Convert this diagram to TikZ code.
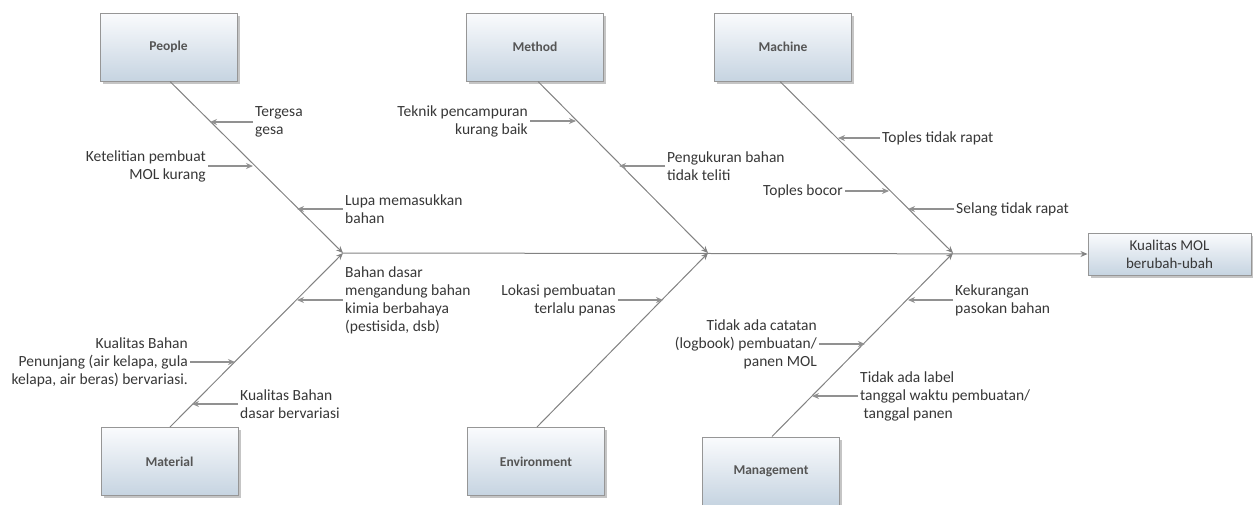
\documentclass[tikz,border=0pt]{standalone}
\usepackage{fontspec}
\setmainfont{Carlito}
\usetikzlibrary{arrows.meta,shadows}
\definecolor{bonegray}{RGB}{130,130,130}
\definecolor{subgray}{RGB}{145,145,145}
\definecolor{txtgray}{RGB}{55,55,55}
\definecolor{boxline}{RGB}{150,150,150}
\definecolor{boxtop}{RGB}{250,251,253}
\definecolor{boxbot}{RGB}{198,212,225}
\tikzset{
  catbox/.style={draw=boxline, line width=1pt, top color=boxtop, bottom color=boxbot,
    minimum width=137pt, minimum height=68pt, text=txtgray!85,
    font=\fontsize{13.5}{15}\selectfont\bfseries,
    drop shadow={shadow xshift=2.5pt, shadow yshift=-2.5pt, fill=black!45}},
  effbox/.style={catbox, minimum width=163pt, minimum height=42pt, align=center,
    text=txtgray, font=\fontsize{15}{18}\selectfont},
  cause/.style={text=txtgray, inner sep=2pt, font=\fontsize{15.5}{18}\selectfont},
  bone/.style={draw=bonegray, line width=1pt, -{Stealth[length=7pt,width=6pt]}},
  sub/.style={draw=subgray, line width=1.4pt, -{Stealth[length=7pt,width=6pt]}}
}
\begin{document}
\begin{tikzpicture}[x=1pt,y=-1pt]
  \useasboundingbox (0,0) rectangle (1253,504);
  % category boxes and the effect
  \foreach \n/\x/\y/\t in {peo/168.5/47/People, met/535/47/Method, mac/783/47/Machine,
      mat/169.5/461.5/Material, env/536/461.5/Environment, man/771/471/Management}
    \node[catbox] (\n) at (\x,\y) {\t};
  \node[effbox] (eff) at (1169.5,254) {Kualitas MOL\\berubah-ubah};
  % junctions on the spine
  \coordinate (j1) at (343,253);
  \coordinate (j2) at (708,253);
  \coordinate (j3) at (953,253);
  \draw[bone] (j1) -- (eff.west);
  \draw[bone] (peo.south -| 170,0) -- (j1);
  \draw[bone] (mat.north -| 170,0) -- (j1);
  \draw[bone] (met.south -| 538,0) -- (j2);
  \draw[bone] (env.north -| 537,0) -- (j2);
  \draw[bone] (mac.south -| 780,0) -- (j3);
  \draw[bone] (man.north -| 772,0) -- (j3);
  % causes on the right of their bone
  \foreach \n/\x/\y/\hx/\t in {
      a/253/122/210/{Tergesa\\gesa},
      b/343/209/297/{Lupa memasukkan\\bahan},
      c/343/300/297/{Bahan dasar\\mengandung bahan\\kimia berbahaya\\(pestisida, dsb)},
      d/238/404/192/{Kualitas Bahan\\dasar bervariasi},
      e/665/166/619/{Pengukuran bahan\\tidak teliti},
      f/880/138/838/{Toples tidak rapat},
      g/954/209/908/{Selang tidak rapat},
      h/953/300/908/{Kekurangan\\pasokan bahan},
      i/858/396/812/{Tidak ada label\\tanggal waktu pembuatan/\\\ tanggal panen}}{
    \node[cause, anchor=west, align=left] (c\n) at (\x,\y) {\t};
    \coordinate (h\n) at (\hx,\y);
    \draw[sub] (c\n.west) -- (h\n);
  }
  % causes on the left of their bone
  \foreach \n/\x/\y/\hx/\t in {
      k/208/166/253/{Ketelitian pembuat\\MOL kurang},
      l/190/362/235/{Kualitas Bahan\\Penunjang (air kelapa, gula\\kelapa, air beras) bervariasi.},
      m/530/121/576/{Teknik pencampuran\\kurang baik},
      n/618/300/663/{Lokasi pembuatan\\terlalu panas},
      o/845/191/889/{Toples bocor},
      p/819/344/865/{Tidak ada catatan\\(logbook) pembuatan/\\panen MOL}}{
    \node[cause, anchor=east, align=right] (c\n) at (\x,\y) {\t};
    \coordinate (h\n) at (\hx,\y);
    \draw[sub] (c\n.east) -- (h\n);
  }
\end{tikzpicture}
\end{document}
